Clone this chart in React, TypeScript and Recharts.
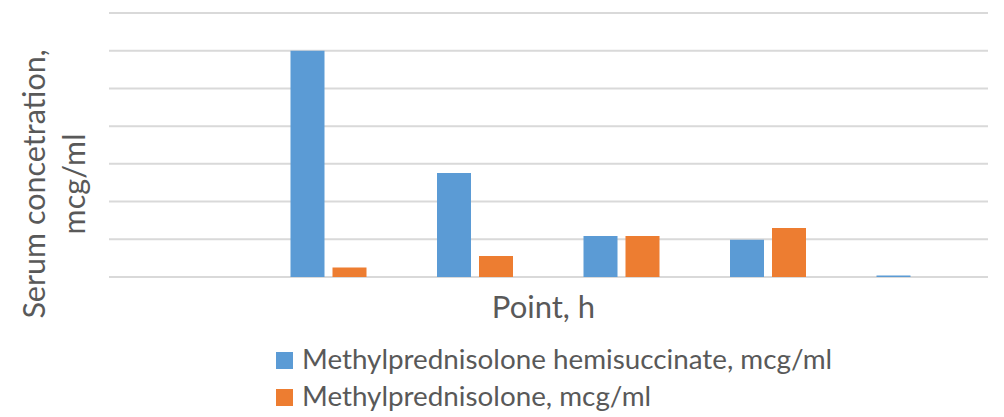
import { Bar, BarChart, CartesianGrid, Legend, XAxis, YAxis } from 'recharts'

const points = ['0', '1', '2', '3', '4', '5']
const hemisuccinate = [null, 6.0, 2.76, 1.09, 0.99, 0.04]
const methylprednisolone = [null, 0.25, 0.56, 1.09, 1.3, null]
const yTicks = [0, 1, 2, 3, 4, 5, 6, 7]

const HEMI = 'Methylprednisolone hemisuccinate, mcg/ml'
const METHYL = 'Methylprednisolone, mcg/ml'

const data = points.map((point, i) => ({
  point,
  hemi: hemisuccinate[i],
  methyl: methylprednisolone[i],
}))

const W = 1004
const H = 417
const margin = { top: 13, right: 16, bottom: 140, left: 109 }
const textColor = '#595959'
const font = 'Lato, "Noto Sans", sans-serif'

// axis titles drawn straight into the chart svg
function YTitle() {
  const cy = margin.top + 171
  const x1 = margin.left - 64
  const x2 = margin.left - 24
  return (
    <g fill={textColor} fontSize={30.5} fontFamily={font}>
      <text x={x1} y={cy} textAnchor='middle' transform={`rotate(-90 ${x1} ${cy})`}>
        Serum concetration,
      </text>
      <text x={x2} y={cy} textAnchor='middle' transform={`rotate(-90 ${x2} ${cy})`}>
        mcg/ml
      </text>
    </g>
  )
}

function XTitle() {
  const plotW = W - margin.left - margin.right
  return (
    <text
      x={margin.left + plotW / 2 - 5}
      y={H - margin.bottom + 41}
      textAnchor='middle'
      fill={textColor}
      fontSize={31}
      fontFamily={font}
    >
      Point, h
    </text>
  )
}

function LegendRows({ payload }: any) {
  return (
    <div style={{ fontFamily: font, fontSize: 27.8, color: textColor }}>
      {(payload || []).map((entry: any) => (
        <div key={entry.value} style={{ display: 'flex', alignItems: 'center', height: 37 }}>
          <span
            style={{
              width: 17,
              height: 17,
              background: entry.color,
              display: 'inline-block',
              marginRight: 9,
              marginTop: 4,
            }}
          />
          <span>{entry.value}</span>
        </div>
      ))}
    </div>
  )
}

export default function App() {
  return (
    <div style={{ position: 'absolute', left: 0, top: 0, background: '#fff' }}>
      <BarChart
        width={W}
        height={H}
        data={data}
        margin={margin}
        barSize={34}
        barGap={8}
      >
        <CartesianGrid vertical={false} stroke='#d9d9d9' strokeWidth={2} />
        <XAxis
          dataKey='point'
          height={0}
          tickFormatter={() => ''}
          tickLine={false}
          axisLine={false}
        />
        <YAxis
          width={0}
          domain={[0, 7]}
          ticks={yTicks}
          tickFormatter={() => ''}
          tickLine={false}
          axisLine={false}
        />
        <Legend
          layout='horizontal'
          verticalAlign='middle'
          align='center'
          content={LegendRows}
          wrapperStyle={{ top: 340, left: 276, width: 700, height: 75 }}
        />
        <Bar dataKey='hemi' name={HEMI} fill='#5b9bd5' isAnimationActive={false} />
        <Bar dataKey='methyl' name={METHYL} fill='#ed7d31' isAnimationActive={false} />
        <XTitle />
        <YTitle />
      </BarChart>
    </div>
  )
}
